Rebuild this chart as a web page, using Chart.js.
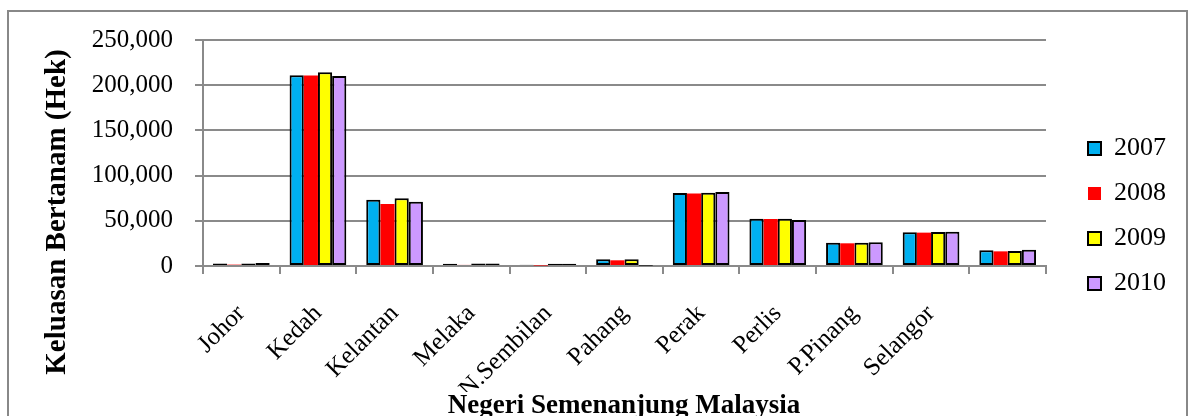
<!DOCTYPE html>
<html>
<head>
<meta charset="utf-8">
<script src="https://cdn.jsdelivr.net/npm/chart.js@4/dist/chart.umd.min.js"></script>
<style>
  html, body { margin: 0; padding: 0; background: #fff; overflow: hidden; }
  #wrap { position: relative; width: 1190px; height: 416px; }
  #frame { position: absolute; left: 7px; top: 10px; width: 1177px; height: 420px;
           border: 2px solid #888; pointer-events: none; }
</style>
</head>
<body>
<div id="wrap">
  <canvas id="chart" width="1190" height="416"></canvas>
  <div id="frame"></div>
</div>
<script>
const states = ['Johor', 'Kedah', 'Kelantan', 'Melaka', 'N.Sembilan', 'Pahang',
  'Perak', 'Perlis', 'P.Pinang', 'Selangor', '']
const y2007 = [2800, 211100, 73200, 2500, 1500, 7400, 80700, 52300, 25800, 37200, 17300]
const y2008 = [1500, 210800, 68600, 1200, 500, 6300, 80300, 52000, 25100, 36900, 16200]
const y2009 = [2700, 214400, 75000, 2900, 2500, 7400, 81000, 52300, 25800, 37600, 16600]
const y2010 = [3200, 210300, 71200, 2900, 2500, 400, 81800, 50900, 26200, 38000, 18000]

const yTitle = 'Keluasan Bertanam (Hek)'
const xTitle = 'Negeri Semenanjung Malaysia'
const serif = '"Liberation Serif", "Times New Roman", serif'
const gridGray = '#8a8a8a'

// axis titles placed like the excel original
const axisTitles = {
  id: 'axisTitles',
  afterDraw(chart) {
    const { ctx, chartArea } = chart
    ctx.save()
    ctx.fillStyle = '#000'
    ctx.font = 'bold 29px ' + serif
    ctx.textAlign = 'center'
    ctx.textBaseline = 'middle'
    ctx.translate(58, chartArea.bottom - 54)
    ctx.rotate(-Math.PI / 2)
    ctx.fillText(yTitle, 0, 0)
    ctx.restore()

    ctx.save()
    ctx.fillStyle = '#000'
    ctx.font = 'bold 27px ' + serif
    ctx.textAlign = 'center'
    ctx.textBaseline = 'alphabetic'
    ctx.fillText(xTitle, 624, chartArea.bottom + 147)
    ctx.restore()
  }
}

const ds = (label, data, color, border) => ({
  label, data,
  backgroundColor: color,
  borderColor: '#000',
  borderWidth: border,
  borderSkipped: false,
})

new Chart(document.getElementById('chart'), {
  type: 'bar',
  data: {
    labels: states,
    datasets: [
      ds('2007', y2007, '#00b0f0', 2),
      ds('2008', y2008, '#ff0000', 0),
      ds('2009', y2009, '#ffff00', 2),
      ds('2010', y2010, '#cc99ff', 2),
    ]
  },
  options: {
    responsive: false,
    animation: false,
    categoryPercentage: 0.74,
    barPercentage: 1,
    layout: { padding: { top: 40, bottom: 24, left: 0, right: 14 } },
    plugins: {
      tooltip: { enabled: false },
      legend: {
        position: 'right',
        labels: {
          boxWidth: 13,
          boxHeight: 13,
          padding: 19,
          color: '#000',
          font: { family: serif, size: 26 }
        }
      }
    },
    scales: {
      x: {
        afterFit: (s) => { s.height = 126 },
        grid: { drawOnChartArea: false, tickLength: 8, color: gridGray, lineWidth: 2 },
        border: { color: gridGray, width: 2 },
        ticks: {
          autoSkip: false, minRotation: 45, maxRotation: 45, padding: 25, labelOffset: 0,
          color: '#000', font: { family: serif, size: 25 }
        }
      },
      y: {
        min: 0, max: 250000,
        afterFit: (s) => { s.width = 203 },
        grid: { tickLength: 8, color: gridGray, lineWidth: 2 },
        border: { color: gridGray, width: 2 },
        ticks: {
          stepSize: 50000, padding: 22, color: '#000',
          font: { family: serif, size: 25 },
          callback: (v) => v.toLocaleString('en-US')
        }
      },
      // empty strip between plot and legend
      gap: {
        axis: 'y', position: 'right',
        afterFit: (s) => { s.width = 23 },
        grid: { display: false }, border: { display: false }, ticks: { display: false }
      }
    }
  },
  plugins: [axisTitles]
})
</script>
</body>
</html>
